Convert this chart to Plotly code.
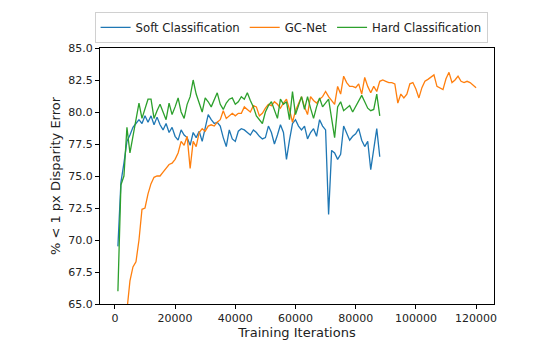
import plotly.graph_objects as go

# training iterations (every 1000)
soft_hard_iters = list(range(1000, 89000, 1000))
gcnet_iters = list(range(4000, 121000, 1000))

soft_classification = [
    69.5, 74.5, 76.0, 77.7, 78.2, 78.8, 79.1, 79.4, 79.1, 79.7,
    79.2, 79.7, 79.0, 79.6, 79.0, 78.6, 79.1, 78.4, 78.8, 78.1,
    77.8, 78.6, 78.2, 78.0, 77.4, 78.4, 78.0, 78.5, 77.7, 78.8,
    79.8, 79.4, 79.1, 79.2, 78.9, 78.0, 77.3, 78.6, 77.9, 77.7,
    78.5, 78.7, 78.6, 78.4, 78.2, 78.6, 78.4, 78.1, 77.9, 78.0,
    78.9, 78.4, 77.5, 78.2, 79.0, 78.4, 76.3, 77.8, 79.1, 79.4,
    78.9, 78.6, 78.9, 77.9, 78.4, 78.7, 78.1, 79.4, 78.9, 78.6,
    72.0, 77.0, 76.8, 76.3, 76.7, 78.9, 78.3, 77.8, 78.1, 78.3,
    78.7, 77.8, 77.3, 77.7, 75.5, 77.0, 78.7, 76.5,
]

hard_classification = [
    66.0, 74.3, 75.0, 78.8, 76.8, 78.1, 79.2, 80.7, 79.5, 80.3,
    81.0, 81.0, 79.5, 80.1, 80.6, 80.0, 79.4, 80.7, 79.8, 80.4,
    81.1, 80.0, 79.5, 80.6, 81.2, 82.5, 81.4, 80.7, 80.0, 81.1,
    80.8, 80.4, 81.0, 81.5, 80.6, 80.2, 80.7, 81.0, 81.1, 80.6,
    80.8, 81.2, 81.0, 81.5, 80.9, 80.4, 79.7, 79.4, 79.1, 80.0,
    80.5, 80.8, 80.2, 79.5, 81.0, 80.6, 80.8, 79.4, 81.6, 79.8,
    80.5, 81.2, 80.2, 81.2, 80.3, 79.5, 80.4, 81.1, 80.4, 80.7,
    81.0, 79.5, 78.0, 80.4, 80.8, 80.1, 80.3, 80.5, 80.0, 80.4,
    80.8, 81.3, 80.8, 80.3, 80.1, 80.2, 81.4, 79.7,
]

gc_net = [
    64.5, 66.8, 67.9, 68.3, 70.0, 72.4, 72.5, 73.6, 74.4, 74.9,
    75.0, 75.0, 75.3, 75.6, 75.9, 76.0, 76.3, 76.8, 77.7, 77.4,
    78.1, 75.6, 77.7, 77.3, 78.4, 78.7, 78.5, 78.9, 79.0, 78.9,
    79.2, 79.4, 80.1, 79.5, 79.7, 79.9, 79.7, 79.9, 79.9, 80.4,
    80.2, 80.0, 80.5, 80.4, 79.7, 79.9, 80.3, 80.6, 80.5, 80.8,
    80.6, 80.3, 80.7, 81.0, 80.2, 79.2, 80.1, 80.6, 81.2, 80.4,
    79.8, 81.2, 80.9, 80.7, 81.0, 81.2, 81.6, 81.2, 80.9, 80.6,
    82.0, 81.4, 82.8, 82.3, 82.0, 82.0, 81.9, 82.2, 81.4, 82.7,
    82.0, 81.5, 82.0, 81.6, 82.4, 82.5, 82.4, 82.3, 82.3, 82.2,
    80.7, 81.4, 81.1, 81.4, 82.2, 82.3, 81.8, 81.1, 81.9, 82.4,
    82.55, 82.7, 82.9, 82.0, 81.9, 81.75, 82.6, 83.1, 82.3, 82.5,
    82.8, 82.4, 82.3, 82.4, 82.3, 82.1, 81.9,
]

fig = go.Figure()
fig.add_trace(go.Scatter(x=soft_hard_iters, y=soft_classification, mode="lines",
                         name="Soft Classification", line=dict(color="#1f77b4", width=1.3)))
fig.add_trace(go.Scatter(x=gcnet_iters, y=gc_net, mode="lines",
                         name="GC-Net", line=dict(color="#ff7f0e", width=1.3)))
fig.add_trace(go.Scatter(x=soft_hard_iters, y=hard_classification, mode="lines",
                         name="Hard Classification", line=dict(color="#2ca02c", width=1.3)))

axis_style = dict(showline=True, linecolor="black", linewidth=1, mirror=True,
                  ticks="outside", ticklen=4, tickcolor="black", showgrid=False,
                  zeroline=False, tickfont=dict(size=11, color="#222"))

# page body adds an 8px offset, so margins are shifted to compensate
fig.update_layout(
    width=555, height=354,
    margin=dict(l=92, r=69, t=40, b=58, autoexpand=False),
    paper_bgcolor="white", plot_bgcolor="white",
    font=dict(family="DejaVu Sans", size=11, color="#222"),
    legend=dict(orientation="h", x=0.485, xanchor="center", y=1.02, yanchor="bottom",
                bordercolor="#d0d0d0", borderwidth=1, bgcolor="white",
                font=dict(size=11.7), itemwidth=30),
)
fig.update_xaxes(range=[-4950, 125950], tickvals=list(range(0, 140000, 20000)),
                 tickformat="d", title=dict(text="Training Iterations", standoff=2),
                 **axis_style)
fig.update_yaxes(range=[65, 85], dtick=2.5, tickformat=".1f",
                 title=dict(text="% < 1 px Disparity Error", standoff=4),
                 **axis_style)

fig.write_html("out.html")
